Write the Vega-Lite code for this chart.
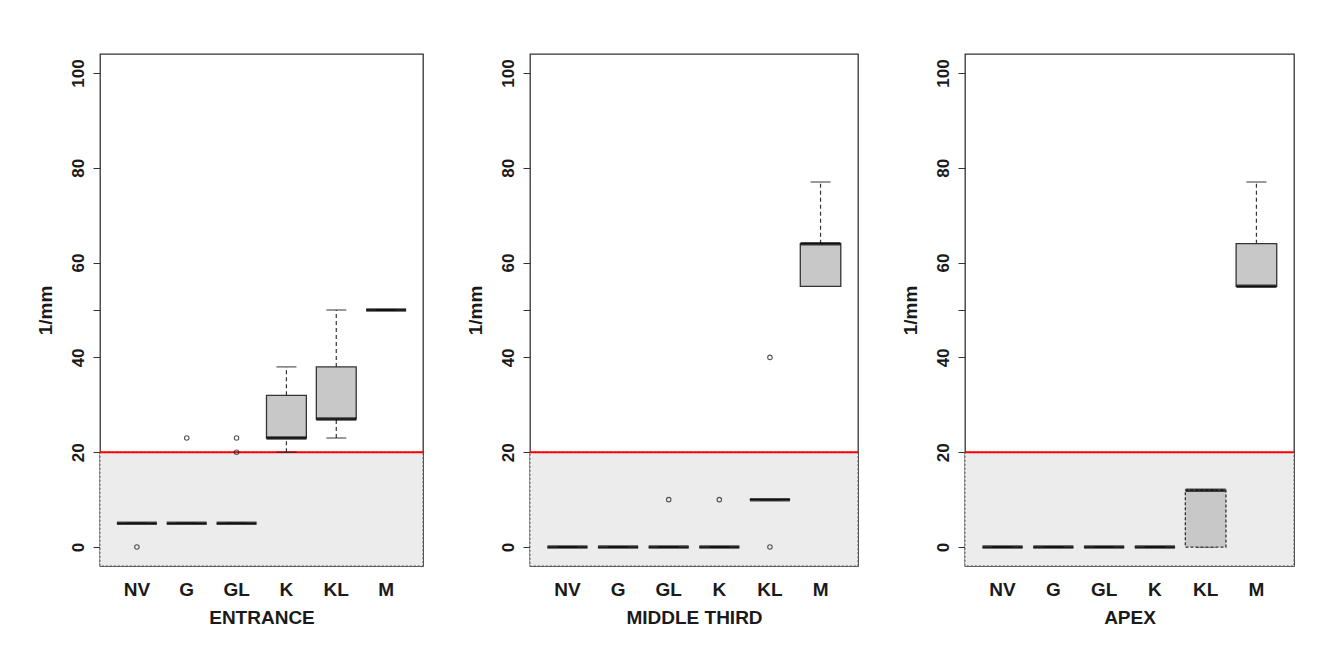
{
  "$schema": "https://vega.github.io/schema/vega-lite/v6.json",
  "background": "white",
  "padding": {"left": 35, "top": 53, "right": 5, "bottom": 5},
  "datasets": {
    "boxes": [
      {"section": "ENTRANCE", "group": "NV", "lo": 5, "q1": 5, "median": 5, "q3": 5, "hi": 5},
      {"section": "ENTRANCE", "group": "G", "lo": 5, "q1": 5, "median": 5, "q3": 5, "hi": 5},
      {"section": "ENTRANCE", "group": "GL", "lo": 5, "q1": 5, "median": 5, "q3": 5, "hi": 5},
      {"section": "ENTRANCE", "group": "K", "lo": 20, "q1": 23, "median": 23, "q3": 32, "hi": 38},
      {"section": "ENTRANCE", "group": "KL", "lo": 23, "q1": 27, "median": 27, "q3": 38, "hi": 50},
      {"section": "ENTRANCE", "group": "M", "lo": 50, "q1": 50, "median": 50, "q3": 50, "hi": 50},
      {"section": "MIDDLE THIRD", "group": "NV", "lo": 0, "q1": 0, "median": 0, "q3": 0, "hi": 0},
      {"section": "MIDDLE THIRD", "group": "G", "lo": 0, "q1": 0, "median": 0, "q3": 0, "hi": 0},
      {"section": "MIDDLE THIRD", "group": "GL", "lo": 0, "q1": 0, "median": 0, "q3": 0, "hi": 0},
      {"section": "MIDDLE THIRD", "group": "K", "lo": 0, "q1": 0, "median": 0, "q3": 0, "hi": 0},
      {"section": "MIDDLE THIRD", "group": "KL", "lo": 10, "q1": 10, "median": 10, "q3": 10, "hi": 10},
      {"section": "MIDDLE THIRD", "group": "M", "lo": 55, "q1": 55, "median": 64, "q3": 64, "hi": 77},
      {"section": "APEX", "group": "NV", "lo": 0, "q1": 0, "median": 0, "q3": 0, "hi": 0},
      {"section": "APEX", "group": "G", "lo": 0, "q1": 0, "median": 0, "q3": 0, "hi": 0},
      {"section": "APEX", "group": "GL", "lo": 0, "q1": 0, "median": 0, "q3": 0, "hi": 0},
      {"section": "APEX", "group": "K", "lo": 0, "q1": 0, "median": 0, "q3": 0, "hi": 0},
      {"section": "APEX", "group": "KL", "lo": 0, "q1": 0, "median": 12, "q3": 12, "hi": 12},
      {"section": "APEX", "group": "M", "lo": 55, "q1": 55, "median": 55, "q3": 64, "hi": 77}
    ],
    "outliers": [
      {"section": "ENTRANCE", "group": "NV", "value": 0},
      {"section": "ENTRANCE", "group": "G", "value": 23},
      {"section": "ENTRANCE", "group": "GL", "value": 23},
      {"section": "ENTRANCE", "group": "GL", "value": 20},
      {"section": "MIDDLE THIRD", "group": "GL", "value": 10},
      {"section": "MIDDLE THIRD", "group": "K", "value": 10},
      {"section": "MIDDLE THIRD", "group": "KL", "value": 40},
      {"section": "MIDDLE THIRD", "group": "KL", "value": 0}
    ],
    "limits": [{"floor": -4, "limit": 20}]
  },
  "config": {
    "font": "Liberation Sans",
    "view": {"stroke": "#333333", "strokeWidth": 1.3},
    "axis": {
      "grid": false,
      "labelFont": "Liberation Sans",
      "labelFontWeight": "bold",
      "labelFontSize": 17,
      "labelColor": "#1a1a1a",
      "titleFont": "Liberation Sans",
      "titleFontWeight": "bold",
      "titleFontSize": 19,
      "titleColor": "#1a1a1a"
    },
    "axisX": {"domain": false, "ticks": false, "labelAngle": 0, "labelFontSize": 19, "labelPadding": 14, "titlePadding": 9},
    "axisY": {"domain": false, "tickColor": "#333333", "tickSize": 7, "labelAngle": -90, "labelAlign": "center", "labelBaseline": "bottom", "labelPadding": 6, "titlePadding": 14}
  },
  "bounds": "flush",
  "spacing": 107,
  "hconcat": [
    {
      "width": 323,
      "height": 512,
      "layer": [
        {"data": {"name": "limits"}, "mark": {"type": "rect", "fill": "#ececec", "stroke": "#555555", "strokeDash": [2, 2], "strokeWidth": 1},
         "encoding": {"y": {"field": "floor", "type": "quantitative", "scale": {"domain": [-4, 104], "nice": false, "zero": false}, "title": "1/mm", "axis": {"values": [0, 20, 40, 50, 60, 80, 100], "labelExpr": "datum.value == 50 ? '' : datum.label"}}, "y2": {"field": "limit"}}},
        {"data": {"name": "limits"}, "mark": {"type": "rule", "color": "#ff0000", "strokeWidth": 2}, "encoding": {"y": {"field": "limit", "type": "quantitative"}}},
        {"data": {"name": "boxes"}, "transform": [{"filter": "datum.section == 'ENTRANCE'"}], "mark": {"type": "rule", "color": "#333333", "strokeDash": [4, 3], "strokeWidth": 1.2},
         "encoding": {"x": {"field": "group", "type": "nominal", "sort": null, "title": "ENTRANCE", "scale": {"domain": ["NV", "G", "GL", "K", "KL", "M"], "paddingInner": 0.2, "paddingOuter": 0.34}}, "y": {"field": "q3", "type": "quantitative"}, "y2": {"field": "hi"}}},
        {"data": {"name": "boxes"}, "transform": [{"filter": "datum.section == 'ENTRANCE'"}], "mark": {"type": "rule", "color": "#333333", "strokeDash": [4, 3], "strokeWidth": 1.2},
         "encoding": {"x": {"field": "group", "type": "nominal", "sort": null, "title": "ENTRANCE"}, "y": {"field": "lo", "type": "quantitative"}, "y2": {"field": "q1"}}},
        {"data": {"name": "boxes"}, "transform": [{"filter": "datum.section == 'ENTRANCE'"}], "mark": {"type": "tick", "color": "#222222", "size": 20, "thickness": 1.3},
         "encoding": {"x": {"field": "group", "type": "nominal", "sort": null, "title": "ENTRANCE"}, "y": {"field": "hi", "type": "quantitative"}}},
        {"data": {"name": "boxes"}, "transform": [{"filter": "datum.section == 'ENTRANCE'"}], "mark": {"type": "tick", "color": "#222222", "size": 20, "thickness": 1.3},
         "encoding": {"x": {"field": "group", "type": "nominal", "sort": null, "title": "ENTRANCE"}, "y": {"field": "lo", "type": "quantitative"}}},
        {"data": {"name": "boxes"}, "transform": [{"filter": "datum.section == 'ENTRANCE'"}], "mark": {"type": "bar", "fill": "#c8c8c8", "stroke": "#333333", "strokeWidth": 1.3},
         "encoding": {"x": {"field": "group", "type": "nominal", "sort": null, "title": "ENTRANCE"}, "y": {"field": "q1", "type": "quantitative"}, "y2": {"field": "q3"},
                      "strokeDash": {"condition": {"test": "datum.lo == datum.q1 && datum.hi == datum.q3 && datum.q1 != datum.q3", "value": [3, 2]}, "value": [1, 0]}}},
        {"data": {"name": "boxes"}, "transform": [{"filter": "datum.section == 'ENTRANCE'"}], "mark": {"type": "tick", "color": "#000000", "size": 40, "thickness": 3.5},
         "encoding": {"x": {"field": "group", "type": "nominal", "sort": null, "title": "ENTRANCE"}, "y": {"field": "median", "type": "quantitative"}}},
        {"data": {"name": "outliers"}, "transform": [{"filter": "datum.section == 'ENTRANCE'"}], "mark": {"type": "point", "shape": "circle", "filled": false, "color": "#111111", "size": 20, "strokeWidth": 1.1},
         "encoding": {"x": {"field": "group", "type": "nominal", "sort": null, "title": "ENTRANCE"}, "y": {"field": "value", "type": "quantitative"}}}
      ]
    },
    {
      "width": 328,
      "height": 512,
      "layer": [
        {"data": {"name": "limits"}, "mark": {"type": "rect", "fill": "#ececec", "stroke": "#555555", "strokeDash": [2, 2], "strokeWidth": 1},
         "encoding": {"y": {"field": "floor", "type": "quantitative", "scale": {"domain": [-4, 104], "nice": false, "zero": false}, "title": "1/mm", "axis": {"values": [0, 20, 40, 50, 60, 80, 100], "labelExpr": "datum.value == 50 ? '' : datum.label"}}, "y2": {"field": "limit"}}},
        {"data": {"name": "limits"}, "mark": {"type": "rule", "color": "#ff0000", "strokeWidth": 2}, "encoding": {"y": {"field": "limit", "type": "quantitative"}}},
        {"data": {"name": "boxes"}, "transform": [{"filter": "datum.section == 'MIDDLE THIRD'"}], "mark": {"type": "rule", "color": "#333333", "strokeDash": [4, 3], "strokeWidth": 1.2},
         "encoding": {"x": {"field": "group", "type": "nominal", "sort": null, "title": "MIDDLE  THIRD", "scale": {"domain": ["NV", "G", "GL", "K", "KL", "M"], "paddingInner": 0.2, "paddingOuter": 0.34}}, "y": {"field": "q3", "type": "quantitative"}, "y2": {"field": "hi"}}},
        {"data": {"name": "boxes"}, "transform": [{"filter": "datum.section == 'MIDDLE THIRD'"}], "mark": {"type": "rule", "color": "#333333", "strokeDash": [4, 3], "strokeWidth": 1.2},
         "encoding": {"x": {"field": "group", "type": "nominal", "sort": null, "title": "MIDDLE  THIRD"}, "y": {"field": "lo", "type": "quantitative"}, "y2": {"field": "q1"}}},
        {"data": {"name": "boxes"}, "transform": [{"filter": "datum.section == 'MIDDLE THIRD'"}], "mark": {"type": "tick", "color": "#222222", "size": 20, "thickness": 1.3},
         "encoding": {"x": {"field": "group", "type": "nominal", "sort": null, "title": "MIDDLE  THIRD"}, "y": {"field": "hi", "type": "quantitative"}}},
        {"data": {"name": "boxes"}, "transform": [{"filter": "datum.section == 'MIDDLE THIRD'"}], "mark": {"type": "tick", "color": "#222222", "size": 20, "thickness": 1.3},
         "encoding": {"x": {"field": "group", "type": "nominal", "sort": null, "title": "MIDDLE  THIRD"}, "y": {"field": "lo", "type": "quantitative"}}},
        {"data": {"name": "boxes"}, "transform": [{"filter": "datum.section == 'MIDDLE THIRD'"}], "mark": {"type": "bar", "fill": "#c8c8c8", "stroke": "#333333", "strokeWidth": 1.3},
         "encoding": {"x": {"field": "group", "type": "nominal", "sort": null, "title": "MIDDLE  THIRD"}, "y": {"field": "q1", "type": "quantitative"}, "y2": {"field": "q3"},
                      "strokeDash": {"condition": {"test": "datum.lo == datum.q1 && datum.hi == datum.q3 && datum.q1 != datum.q3", "value": [3, 2]}, "value": [1, 0]}}},
        {"data": {"name": "boxes"}, "transform": [{"filter": "datum.section == 'MIDDLE THIRD'"}], "mark": {"type": "tick", "color": "#000000", "size": 40, "thickness": 3.5},
         "encoding": {"x": {"field": "group", "type": "nominal", "sort": null, "title": "MIDDLE  THIRD"}, "y": {"field": "median", "type": "quantitative"}}},
        {"data": {"name": "outliers"}, "transform": [{"filter": "datum.section == 'MIDDLE THIRD'"}], "mark": {"type": "point", "shape": "circle", "filled": false, "color": "#111111", "size": 20, "strokeWidth": 1.1},
         "encoding": {"x": {"field": "group", "type": "nominal", "sort": null, "title": "MIDDLE  THIRD"}, "y": {"field": "value", "type": "quantitative"}}}
      ]
    },
    {
      "width": 329,
      "height": 512,
      "layer": [
        {"data": {"name": "limits"}, "mark": {"type": "rect", "fill": "#ececec", "stroke": "#555555", "strokeDash": [2, 2], "strokeWidth": 1},
         "encoding": {"y": {"field": "floor", "type": "quantitative", "scale": {"domain": [-4, 104], "nice": false, "zero": false}, "title": "1/mm", "axis": {"values": [0, 20, 40, 50, 60, 80, 100], "labelExpr": "datum.value == 50 ? '' : datum.label"}}, "y2": {"field": "limit"}}},
        {"data": {"name": "limits"}, "mark": {"type": "rule", "color": "#ff0000", "strokeWidth": 2}, "encoding": {"y": {"field": "limit", "type": "quantitative"}}},
        {"data": {"name": "boxes"}, "transform": [{"filter": "datum.section == 'APEX'"}], "mark": {"type": "rule", "color": "#333333", "strokeDash": [4, 3], "strokeWidth": 1.2},
         "encoding": {"x": {"field": "group", "type": "nominal", "sort": null, "title": "APEX", "scale": {"domain": ["NV", "G", "GL", "K", "KL", "M"], "paddingInner": 0.2, "paddingOuter": 0.34}}, "y": {"field": "q3", "type": "quantitative"}, "y2": {"field": "hi"}}},
        {"data": {"name": "boxes"}, "transform": [{"filter": "datum.section == 'APEX'"}], "mark": {"type": "rule", "color": "#333333", "strokeDash": [4, 3], "strokeWidth": 1.2},
         "encoding": {"x": {"field": "group", "type": "nominal", "sort": null, "title": "APEX"}, "y": {"field": "lo", "type": "quantitative"}, "y2": {"field": "q1"}}},
        {"data": {"name": "boxes"}, "transform": [{"filter": "datum.section == 'APEX'"}], "mark": {"type": "tick", "color": "#222222", "size": 20, "thickness": 1.3},
         "encoding": {"x": {"field": "group", "type": "nominal", "sort": null, "title": "APEX"}, "y": {"field": "hi", "type": "quantitative"}}},
        {"data": {"name": "boxes"}, "transform": [{"filter": "datum.section == 'APEX'"}], "mark": {"type": "tick", "color": "#222222", "size": 20, "thickness": 1.3},
         "encoding": {"x": {"field": "group", "type": "nominal", "sort": null, "title": "APEX"}, "y": {"field": "lo", "type": "quantitative"}}},
        {"data": {"name": "boxes"}, "transform": [{"filter": "datum.section == 'APEX'"}], "mark": {"type": "bar", "fill": "#c8c8c8", "stroke": "#333333", "strokeWidth": 1.3},
         "encoding": {"x": {"field": "group", "type": "nominal", "sort": null, "title": "APEX"}, "y": {"field": "q1", "type": "quantitative"}, "y2": {"field": "q3"},
                      "strokeDash": {"condition": {"test": "datum.lo == datum.q1 && datum.hi == datum.q3 && datum.q1 != datum.q3", "value": [3, 2]}, "value": [1, 0]}}},
        {"data": {"name": "boxes"}, "transform": [{"filter": "datum.section == 'APEX'"}], "mark": {"type": "tick", "color": "#000000", "size": 40, "thickness": 3.5},
         "encoding": {"x": {"field": "group", "type": "nominal", "sort": null, "title": "APEX"}, "y": {"field": "median", "type": "quantitative"}}},
        {"data": {"name": "outliers"}, "transform": [{"filter": "datum.section == 'APEX'"}], "mark": {"type": "point", "shape": "circle", "filled": false, "color": "#111111", "size": 20, "strokeWidth": 1.1},
         "encoding": {"x": {"field": "group", "type": "nominal", "sort": null, "title": "APEX"}, "y": {"field": "value", "type": "quantitative"}}}
      ]
    }
  ]
}
